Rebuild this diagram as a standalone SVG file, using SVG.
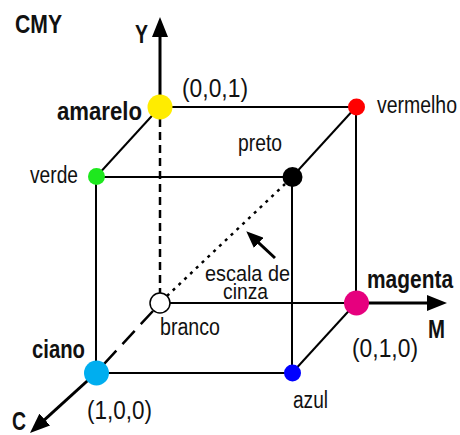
<svg xmlns="http://www.w3.org/2000/svg" width="460" height="435" viewBox="0 0 460 435">
<style>
.edge{stroke:#000;stroke-width:2;fill:none}
.axis{stroke:#000;stroke-width:3;fill:none}
.dash{stroke:#000;stroke-width:2.5;fill:none;stroke-dasharray:8 5}
.dash2{stroke:#000;stroke-width:2.5;fill:none;stroke-dasharray:18 9}
.dot{stroke:#000;stroke-width:2.5;fill:none;stroke-dasharray:3 5}
text{font-family:"Liberation Sans",Arial,sans-serif;fill:#111}
.r{font-size:23px}
.s{font-size:22px}
.n{font-size:26px}
.b{font-size:25px;font-weight:bold}
</style>
<defs>
<marker id="ah" markerUnits="userSpaceOnUse" markerWidth="20" markerHeight="16" refX="5" refY="8" orient="auto">
<path d="M0,0 L20,8 L0,16 z" fill="#000"/>
</marker>
<marker id="ah2" markerUnits="userSpaceOnUse" markerWidth="17" markerHeight="14" refX="4" refY="7" orient="auto">
<path d="M0,0 L17,7 L0,14 z" fill="#000"/>
</marker>
</defs>
<g id="connectors">
<line class="edge" x1="160" y1="107" x2="356" y2="107"/>
<line class="edge" x1="356" y1="107" x2="356" y2="303"/>
<line class="edge" x1="96" y1="177" x2="292" y2="177"/>
<line class="edge" x1="292" y1="177" x2="292" y2="373"/>
<line class="edge" x1="96" y1="373" x2="292" y2="373"/>
<line class="edge" x1="96" y1="177" x2="96" y2="373"/>
<line class="edge" x1="160" y1="107" x2="96" y2="177"/>
<line class="edge" x1="356" y1="107" x2="292" y2="177"/>
<line class="edge" x1="356" y1="303" x2="292" y2="373"/>
<line class="edge" x1="160" y1="303" x2="356" y2="303"/>
<line class="dash" x1="160" y1="119" x2="160" y2="293"/>
<line class="dash2" x1="153" y1="311" x2="104" y2="364"/>
<line class="dot" x1="167" y1="296" x2="285" y2="184"/>
<line class="axis" x1="160" y1="107" x2="160" y2="32" marker-end="url(#ah)"/>
<line class="axis" x1="356" y1="303" x2="432" y2="303" marker-end="url(#ah)"/>
<line class="axis" x1="96" y1="373" x2="41.1" y2="422.9" marker-end="url(#ah)"/>
<line class="axis" x1="275" y1="258" x2="255.8" y2="240.2" marker-end="url(#ah2)"/>
</g>
<g id="amarelo"><circle cx="160" cy="107" r="12.5" fill="#ffec00"/><text class="b" x="57" y="120" textLength="85" lengthAdjust="spacingAndGlyphs">amarelo</text><text class="n" x="182" y="97" textLength="66" lengthAdjust="spacingAndGlyphs">(0,0,1)</text></g>
<g id="vermelho"><circle cx="356.5" cy="107" r="8.5" fill="#ff0000"/><text class="r" transform="translate(377,113) scale(0.846,1)">vermelho</text></g>
<g id="verde"><circle cx="96.5" cy="176.5" r="8.5" fill="#1ee81e"/><text class="r" x="30" y="183" textLength="48" lengthAdjust="spacingAndGlyphs">verde</text></g>
<g id="preto"><circle cx="292.5" cy="177" r="10" fill="#000"/><text class="r" x="238" y="151" textLength="44" lengthAdjust="spacingAndGlyphs">preto</text></g>
<g id="branco"><circle cx="160" cy="303" r="10" fill="#fff" stroke="#000" stroke-width="1.5"/><text class="r" x="160" y="335" textLength="60" lengthAdjust="spacingAndGlyphs">branco</text></g>
<g id="magenta"><circle cx="356.5" cy="303" r="12.5" fill="#e6007e"/><text class="b" transform="translate(367,288) scale(0.837,1)">magenta</text><text class="n" x="352" y="357" textLength="66" lengthAdjust="spacingAndGlyphs">(0,1,0)</text></g>
<g id="ciano"><circle cx="96.5" cy="373" r="12.5" fill="#00aeef"/><text class="b" x="32" y="358" textLength="53" lengthAdjust="spacingAndGlyphs">ciano</text><text class="n" x="87" y="419" textLength="65" lengthAdjust="spacingAndGlyphs">(1,0,0)</text></g>
<g id="azul"><circle cx="292.5" cy="373" r="8.5" fill="#0000ff"/><text class="r" x="293" y="408" textLength="35" lengthAdjust="spacingAndGlyphs">azul</text></g>
<g id="escala"><text class="s"><tspan x="205" y="281" textLength="85" lengthAdjust="spacingAndGlyphs">escala de</tspan><tspan x="223" y="299" textLength="45" lengthAdjust="spacingAndGlyphs">cinza</tspan></text></g>
<g id="labels">
<text class="b" x="15" y="33" textLength="47" lengthAdjust="spacingAndGlyphs">CMY</text>
<text class="b" x="135" y="43" textLength="13" lengthAdjust="spacingAndGlyphs">Y</text>
<text class="b" x="428" y="338" textLength="17" lengthAdjust="spacingAndGlyphs">M</text>
<text class="b" x="12" y="430" textLength="14" lengthAdjust="spacingAndGlyphs">C</text>
</g>
</svg>
